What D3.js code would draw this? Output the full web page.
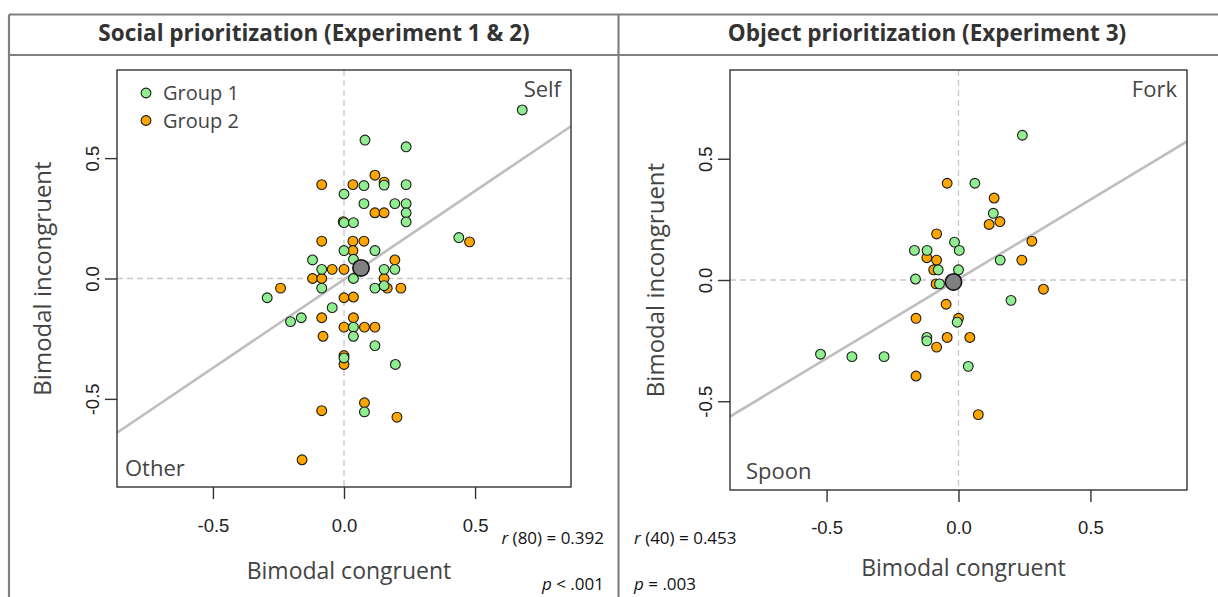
<!DOCTYPE html>
<html>
<head>
<meta charset="utf-8">
<script src="https://cdn.jsdelivr.net/npm/d3@7"></script>
<style>
  body { margin: 0; background: #fff; }
  svg { display: block; }
</style>
</head>
<body>
<svg id="chart" width="1218" height="597"></svg>
<script>
// ---- Data -------------------------------------------------------------
// Social prioritization (Experiments 1 & 2): [bimodal congruent, bimodal incongruent]
const socialGroup1 = [
  [0.680, 0.700], [0.080, 0.575], [0.237, 0.547], [0.153, 0.388], [0.076, 0.386],
  [0.237, 0.390], [0.000, 0.351], [0.076, 0.311], [0.194, 0.311], [0.237, 0.311],
  [0.237, 0.273], [0.237, 0.235], [0.000, 0.232], [0.036, 0.232], [0.438, 0.170],
  [0.000, 0.116], [0.118, 0.116], [-0.120, 0.077], [0.036, 0.080], [-0.085, 0.038],
  [0.153, 0.038], [0.194, 0.038], [0.036, 0.000], [-0.085, -0.040], [0.118, -0.040],
  [0.153, -0.030], [-0.293, -0.080], [-0.045, -0.121], [-0.204, -0.179], [-0.163, -0.163],
  [0.036, -0.202], [0.036, -0.240], [0.118, -0.279], [0.000, -0.330], [0.196, -0.357],
  [0.078, -0.554]
];
const socialGroup2 = [
  [0.118, 0.429], [0.153, 0.400], [-0.085, 0.390], [0.034, 0.390], [0.118, 0.273],
  [0.153, 0.273], [-0.003, 0.236], [0.479, 0.152], [-0.085, 0.155], [0.034, 0.155],
  [0.076, 0.155], [0.034, 0.116], [0.194, 0.077], [-0.045, 0.038], [0.000, 0.038],
  [-0.120, 0.000], [-0.085, 0.000], [0.153, 0.000], [-0.242, -0.040], [0.165, -0.040],
  [0.217, -0.040], [0.000, -0.080], [0.036, -0.077], [-0.085, -0.163], [0.036, -0.163],
  [0.000, -0.202], [0.078, -0.202], [0.118, -0.202], [-0.080, -0.240], [0.000, -0.320],
  [0.000, -0.357], [0.078, -0.516], [-0.085, -0.549], [0.202, -0.576], [-0.160, -0.753]
];
const socialMean = [0.065, 0.044];
const socialFit = { intercept: -0.004, slope: 0.735 };
const socialStats = ["r", " (80) = 0.392", "p", " < .001"];

// Object prioritization (Experiment 3)
const objectGroup1 = [
  [0.242, 0.597], [0.062, 0.399], [0.132, 0.275], [-0.015, 0.156], [0.003, 0.122],
  [-0.167, 0.122], [-0.119, 0.122], [0.158, 0.082], [-0.077, 0.042], [0.000, 0.042],
  [-0.163, 0.004], [-0.072, -0.016], [0.199, -0.084], [-0.005, -0.174], [-0.120, -0.237],
  [-0.120, -0.251], [-0.523, -0.306], [-0.404, -0.316], [-0.282, -0.316], [0.037, -0.356]
];
const objectGroup2 = [
  [-0.043, 0.399], [0.135, 0.338], [0.116, 0.229], [0.157, 0.241], [-0.083, 0.190],
  [0.278, 0.160], [-0.120, 0.092], [-0.083, 0.082], [0.240, 0.082], [-0.094, 0.042],
  [-0.085, -0.016], [0.322, -0.038], [-0.047, -0.100], [-0.161, -0.158], [0.000, -0.158],
  [-0.043, -0.237], [0.043, -0.237], [-0.083, -0.277], [-0.161, -0.396], [0.075, -0.555]
];
const objectMean = [-0.019, -0.008];
const objectFit = { intercept: 0.004, slope: 0.655 };
const objectStats = ["r", " (40) = 0.453", "p", " = .003"];

const axisLimits = [-0.866, 0.866];
const tickValues = [-0.5, 0, 0.5];
const tickLabels = ["-0.5", "0.0", "0.5"];
const groupNames = ["Group 1", "Group 2"];
const groupColors = ["#90ee90", "#ffa500"];

// ---- Layout -----------------------------------------------------------
const panels = [
  {
    title: "Social prioritization (Experiment 1 & 2)", titleX: 314,
    g1: socialGroup1, g2: socialGroup2, mean: socialMean, fit: socialFit,
    topLabel: "Self", bottomLabel: "Other", legend: true,
    box: { x0: 117, x1: 571, y0: 70, y1: 487 },
    tickY: 45, xTitleY: 92,
    stats: socialStats, statsX: 604, statsAnchor: "end"
  },
  {
    title: "Object prioritization (Experiment 3)", titleX: 927,
    g1: objectGroup1, g2: objectGroup2, mean: objectMean, fit: objectFit,
    topLabel: "Fork", bottomLabel: "Spoon", legend: false,
    box: { x0: 730, x1: 1187, y0: 70, y1: 490 },
    tickY: 44, xTitleY: 86,
    stats: objectStats, statsX: 634, statsAnchor: "start"
  }
];

const svg = d3.select("#chart");
const sansUI = "'Open Sans', 'DejaVu Sans', sans-serif";
const sansTick = "'Liberation Sans', Arial, sans-serif";

svg.append("rect").attr("width", 1218).attr("height", 597).attr("fill", "#fff");

// Outer frame with header row and panel divider
const frame = svg.append("g").attr("stroke", "#808080").attr("stroke-width", 2.2).attr("fill", "none");
frame.append("line").attr("x1", 9).attr("x2", 1218).attr("y1", 14.5).attr("y2", 14.5);
frame.append("line").attr("x1", 9).attr("x2", 1218).attr("y1", 55).attr("y2", 55);
frame.append("line").attr("x1", 9).attr("x2", 9).attr("y1", 14.5).attr("y2", 597);
frame.append("line").attr("x1", 618.5).attr("x2", 618.5).attr("y1", 14.5).attr("y2", 597);

panels.forEach((p, pi) => {
  const b = p.box;
  const x = d3.scaleLinear().domain(axisLimits).range([b.x0, b.x1]);
  const y = d3.scaleLinear().domain(axisLimits).range([b.y1, b.y0]);
  const g = svg.append("g");

  // Header
  g.append("text")
    .attr("x", p.titleX).attr("y", 41)
    .attr("text-anchor", "middle")
    .attr("font-family", sansUI).attr("font-weight", 700).attr("font-size", 22.5)
    .attr("fill", "#333")
    .text(p.title);

  // Zero reference lines
  const zero = g.append("g").attr("stroke", "#c8c8c8").attr("stroke-width", 1.3).attr("stroke-dasharray", "6,4");
  zero.append("line").attr("x1", x(0)).attr("x2", x(0)).attr("y1", b.y0).attr("y2", b.y1);
  zero.append("line").attr("x1", b.x0).attr("x2", b.x1).attr("y1", y(0)).attr("y2", y(0));

  // Regression line across the plotting region
  const clipId = "clip" + pi;
  g.append("clipPath").attr("id", clipId).append("rect")
    .attr("x", b.x0).attr("y", b.y0).attr("width", b.x1 - b.x0).attr("height", b.y1 - b.y0);
  const fitLine = d3.line().x(d => x(d)).y(d => y(p.fit.intercept + p.fit.slope * d));
  g.append("path")
    .attr("clip-path", `url(#${clipId})`)
    .attr("d", fitLine(axisLimits))
    .attr("fill", "none").attr("stroke", "#bebebe").attr("stroke-width", 2.6);

  // Participants
  [[p.g2, groupColors[1]], [p.g1, groupColors[0]]].forEach(([pts, col]) => {
    g.append("g").selectAll("circle").data(pts).join("circle")
      .attr("cx", d => x(d[0])).attr("cy", d => y(d[1])).attr("r", 4.9)
      .attr("fill", col).attr("stroke", "#1a1a1a").attr("stroke-width", 1.1);
  });

  // Grand mean
  g.append("circle")
    .attr("cx", x(p.mean[0])).attr("cy", y(p.mean[1])).attr("r", 8.2)
    .attr("fill", "#808080").attr("stroke", "#111").attr("stroke-width", 1.6);

  // Plot box
  g.append("rect")
    .attr("x", b.x0).attr("y", b.y0).attr("width", b.x1 - b.x0).attr("height", b.y1 - b.y0)
    .attr("fill", "none").attr("stroke", "#333").attr("stroke-width", 1.4);

  // Axes
  const xAxis = g.append("g").attr("transform", `translate(0,${b.y1})`)
    .call(d3.axisBottom(x).tickValues(tickValues).tickFormat((d, i) => tickLabels[i]).tickSize(12));
  xAxis.select(".domain").remove();
  xAxis.selectAll("line").attr("stroke", "#333").attr("stroke-width", 1.4);
  xAxis.selectAll("text").attr("y", p.tickY).attr("dy", 0)
    .attr("font-family", sansTick).attr("font-size", 18.5).attr("fill", "#222");

  const yAxis = g.append("g").attr("transform", `translate(${b.x0},0)`)
    .call(d3.axisLeft(y).tickValues(tickValues).tickFormat((d, i) => tickLabels[i]).tickSize(12));
  yAxis.select(".domain").remove();
  yAxis.selectAll("line").attr("stroke", "#333").attr("stroke-width", 1.4);
  yAxis.selectAll("text").attr("x", 0).attr("y", 0).attr("dy", 0)
    .attr("text-anchor", "middle")
    .attr("transform", "translate(-18,0) rotate(-90)")
    .attr("font-family", sansTick).attr("font-size", 18.5).attr("fill", "#222");

  // Axis titles
  g.append("text")
    .attr("x", (b.x0 + b.x1) / 2 + 5).attr("y", b.y1 + p.xTitleY)
    .attr("text-anchor", "middle")
    .attr("font-family", sansUI).attr("font-size", 23).attr("fill", "#444")
    .text("Bimodal congruent");
  g.append("text")
    .attr("transform", `translate(${b.x0 - 66},${(b.y0 + b.y1) / 2}) rotate(-90)`)
    .attr("text-anchor", "middle")
    .attr("font-family", sansUI).attr("font-size", 24).attr("fill", "#444")
    .text("Bimodal incongruent");

  // Corner labels
  g.append("text")
    .attr("x", b.x1 - 10).attr("y", b.y0 + 27)
    .attr("text-anchor", "end")
    .attr("font-family", sansUI).attr("font-size", 22).attr("fill", "#444")
    .text(p.topLabel);
  g.append("text")
    .attr("x", b.x0 + (pi === 0 ? 8 : 16)).attr("y", b.y1 - 11)
    .attr("font-family", sansUI).attr("font-size", 22).attr("fill", "#444")
    .text(p.bottomLabel);

  // Legend
  if (p.legend) {
    groupNames.forEach((name, i) => {
      const ly = 93 + i * 27.5;
      g.append("circle").attr("cx", 146).attr("cy", ly).attr("r", 4.9)
        .attr("fill", groupColors[i]).attr("stroke", "#1a1a1a").attr("stroke-width", 1.1);
      g.append("text").attr("x", 163).attr("y", ly + 7)
        .attr("font-family", sansUI).attr("font-size", 20).attr("fill", "#444")
        .text(name);
    });
  }

  // Correlation statistics
  [[p.stats[0], p.stats[1], 544], [p.stats[2], p.stats[3], 590]].forEach(([it, rest, sy]) => {
    const t = g.append("text")
      .attr("x", p.statsX).attr("y", sy)
      .attr("text-anchor", p.statsAnchor)
      .attr("font-family", sansUI).attr("font-size", 17).attr("fill", "#111");
    t.append("tspan").attr("font-style", "italic").text(it);
    t.append("tspan").text(rest);
  });
});
</script>
</body>
</html>
